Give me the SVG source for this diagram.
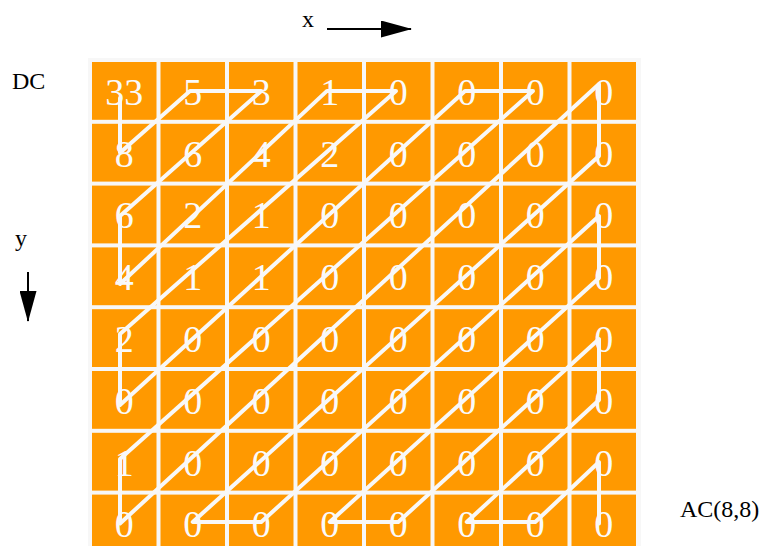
<svg xmlns="http://www.w3.org/2000/svg" width="764" height="546" viewBox="0 0 764 546">
<style>
.cell{fill:#ff9900}
.num{font-family:"Liberation Serif","Times New Roman",serif;font-size:38px;fill:#fafafa;text-anchor:middle}
.lbl{font-family:"Liberation Serif","Times New Roman",serif;font-size:24px;fill:#000}
.zz{fill:none;stroke:#f8f8f8;stroke-width:4;stroke-linejoin:round;stroke-linecap:round}
.ax{stroke:#000;stroke-width:2;fill:none}
</style>
<defs>
<marker id="ah" markerUnits="userSpaceOnUse" markerWidth="31" markerHeight="17" refX="30" refY="8.5" orient="auto">
<path d="M0,0 L31,8.5 L0,17 Z" fill="#000"/>
</marker>
</defs>
<rect x="0" y="0" width="764" height="546" fill="#fff"/>
<rect x="88" y="58" width="553" height="488" fill="#f7f7f7"/>
<g id="labels">
<text class="lbl" x="302" y="27">x</text>
<text class="lbl" x="12" y="89">DC</text>
<text class="lbl" x="15" y="246">y</text>
<text class="lbl" x="680" y="517">AC(8,8)</text>
</g>
<g id="axes">
<line class="ax" x1="327" y1="29" x2="411" y2="29" marker-end="url(#ah)"/>
<line class="ax" x1="28" y1="272" x2="28" y2="321" marker-end="url(#ah)"/>
</g>
<g id="cells">
<g id="c00" transform="translate(92,62)"><rect class="cell" width="64.5" height="57.8"/><text class="num" x="32.25" y="42.9">33</text></g>
<g id="c01" transform="translate(160.5,62)"><rect class="cell" width="64.5" height="57.8"/><text class="num" x="32.25" y="42.9">5</text></g>
<g id="c02" transform="translate(229,62)"><rect class="cell" width="64.5" height="57.8"/><text class="num" x="32.25" y="42.9">3</text></g>
<g id="c03" transform="translate(297.5,62)"><rect class="cell" width="64.5" height="57.8"/><text class="num" x="32.25" y="42.9">1</text></g>
<g id="c04" transform="translate(366,62)"><rect class="cell" width="64.5" height="57.8"/><text class="num" x="32.25" y="42.9">0</text></g>
<g id="c05" transform="translate(434.5,62)"><rect class="cell" width="64.5" height="57.8"/><text class="num" x="32.25" y="42.9">0</text></g>
<g id="c06" transform="translate(503,62)"><rect class="cell" width="64.5" height="57.8"/><text class="num" x="32.25" y="42.9">0</text></g>
<g id="c07" transform="translate(571.5,62)"><rect class="cell" width="64.5" height="57.8"/><text class="num" x="32.25" y="42.9">0</text></g>

<g id="c10" transform="translate(92,123.8)"><rect class="cell" width="64.5" height="57.8"/><text class="num" x="32.25" y="42.9">8</text></g>
<g id="c11" transform="translate(160.5,123.8)"><rect class="cell" width="64.5" height="57.8"/><text class="num" x="32.25" y="42.9">6</text></g>
<g id="c12" transform="translate(229,123.8)"><rect class="cell" width="64.5" height="57.8"/><text class="num" x="32.25" y="42.9">4</text></g>
<g id="c13" transform="translate(297.5,123.8)"><rect class="cell" width="64.5" height="57.8"/><text class="num" x="32.25" y="42.9">2</text></g>
<g id="c14" transform="translate(366,123.8)"><rect class="cell" width="64.5" height="57.8"/><text class="num" x="32.25" y="42.9">0</text></g>
<g id="c15" transform="translate(434.5,123.8)"><rect class="cell" width="64.5" height="57.8"/><text class="num" x="32.25" y="42.9">0</text></g>
<g id="c16" transform="translate(503,123.8)"><rect class="cell" width="64.5" height="57.8"/><text class="num" x="32.25" y="42.9">0</text></g>
<g id="c17" transform="translate(571.5,123.8)"><rect class="cell" width="64.5" height="57.8"/><text class="num" x="32.25" y="42.9">0</text></g>

<g id="c20" transform="translate(92,185.6)"><rect class="cell" width="64.5" height="57.8"/><text class="num" x="32.25" y="42.9">6</text></g>
<g id="c21" transform="translate(160.5,185.6)"><rect class="cell" width="64.5" height="57.8"/><text class="num" x="32.25" y="42.9">2</text></g>
<g id="c22" transform="translate(229,185.6)"><rect class="cell" width="64.5" height="57.8"/><text class="num" x="32.25" y="42.9">1</text></g>
<g id="c23" transform="translate(297.5,185.6)"><rect class="cell" width="64.5" height="57.8"/><text class="num" x="32.25" y="42.9">0</text></g>
<g id="c24" transform="translate(366,185.6)"><rect class="cell" width="64.5" height="57.8"/><text class="num" x="32.25" y="42.9">0</text></g>
<g id="c25" transform="translate(434.5,185.6)"><rect class="cell" width="64.5" height="57.8"/><text class="num" x="32.25" y="42.9">0</text></g>
<g id="c26" transform="translate(503,185.6)"><rect class="cell" width="64.5" height="57.8"/><text class="num" x="32.25" y="42.9">0</text></g>
<g id="c27" transform="translate(571.5,185.6)"><rect class="cell" width="64.5" height="57.8"/><text class="num" x="32.25" y="42.9">0</text></g>

<g id="c30" transform="translate(92,247.4)"><rect class="cell" width="64.5" height="57.8"/><text class="num" x="32.25" y="42.9">4</text></g>
<g id="c31" transform="translate(160.5,247.4)"><rect class="cell" width="64.5" height="57.8"/><text class="num" x="32.25" y="42.9">1</text></g>
<g id="c32" transform="translate(229,247.4)"><rect class="cell" width="64.5" height="57.8"/><text class="num" x="32.25" y="42.9">1</text></g>
<g id="c33" transform="translate(297.5,247.4)"><rect class="cell" width="64.5" height="57.8"/><text class="num" x="32.25" y="42.9">0</text></g>
<g id="c34" transform="translate(366,247.4)"><rect class="cell" width="64.5" height="57.8"/><text class="num" x="32.25" y="42.9">0</text></g>
<g id="c35" transform="translate(434.5,247.4)"><rect class="cell" width="64.5" height="57.8"/><text class="num" x="32.25" y="42.9">0</text></g>
<g id="c36" transform="translate(503,247.4)"><rect class="cell" width="64.5" height="57.8"/><text class="num" x="32.25" y="42.9">0</text></g>
<g id="c37" transform="translate(571.5,247.4)"><rect class="cell" width="64.5" height="57.8"/><text class="num" x="32.25" y="42.9">0</text></g>

<g id="c40" transform="translate(92,309.2)"><rect class="cell" width="64.5" height="57.8"/><text class="num" x="32.25" y="42.9">2</text></g>
<g id="c41" transform="translate(160.5,309.2)"><rect class="cell" width="64.5" height="57.8"/><text class="num" x="32.25" y="42.9">0</text></g>
<g id="c42" transform="translate(229,309.2)"><rect class="cell" width="64.5" height="57.8"/><text class="num" x="32.25" y="42.9">0</text></g>
<g id="c43" transform="translate(297.5,309.2)"><rect class="cell" width="64.5" height="57.8"/><text class="num" x="32.25" y="42.9">0</text></g>
<g id="c44" transform="translate(366,309.2)"><rect class="cell" width="64.5" height="57.8"/><text class="num" x="32.25" y="42.9">0</text></g>
<g id="c45" transform="translate(434.5,309.2)"><rect class="cell" width="64.5" height="57.8"/><text class="num" x="32.25" y="42.9">0</text></g>
<g id="c46" transform="translate(503,309.2)"><rect class="cell" width="64.5" height="57.8"/><text class="num" x="32.25" y="42.9">0</text></g>
<g id="c47" transform="translate(571.5,309.2)"><rect class="cell" width="64.5" height="57.8"/><text class="num" x="32.25" y="42.9">0</text></g>

<g id="c50" transform="translate(92,371)"><rect class="cell" width="64.5" height="57.8"/><text class="num" x="32.25" y="42.9">0</text></g>
<g id="c51" transform="translate(160.5,371)"><rect class="cell" width="64.5" height="57.8"/><text class="num" x="32.25" y="42.9">0</text></g>
<g id="c52" transform="translate(229,371)"><rect class="cell" width="64.5" height="57.8"/><text class="num" x="32.25" y="42.9">0</text></g>
<g id="c53" transform="translate(297.5,371)"><rect class="cell" width="64.5" height="57.8"/><text class="num" x="32.25" y="42.9">0</text></g>
<g id="c54" transform="translate(366,371)"><rect class="cell" width="64.5" height="57.8"/><text class="num" x="32.25" y="42.9">0</text></g>
<g id="c55" transform="translate(434.5,371)"><rect class="cell" width="64.5" height="57.8"/><text class="num" x="32.25" y="42.9">0</text></g>
<g id="c56" transform="translate(503,371)"><rect class="cell" width="64.5" height="57.8"/><text class="num" x="32.25" y="42.9">0</text></g>
<g id="c57" transform="translate(571.5,371)"><rect class="cell" width="64.5" height="57.8"/><text class="num" x="32.25" y="42.9">0</text></g>

<g id="c60" transform="translate(92,432.8)"><rect class="cell" width="64.5" height="57.8"/><text class="num" x="32.25" y="42.9">1</text></g>
<g id="c61" transform="translate(160.5,432.8)"><rect class="cell" width="64.5" height="57.8"/><text class="num" x="32.25" y="42.9">0</text></g>
<g id="c62" transform="translate(229,432.8)"><rect class="cell" width="64.5" height="57.8"/><text class="num" x="32.25" y="42.9">0</text></g>
<g id="c63" transform="translate(297.5,432.8)"><rect class="cell" width="64.5" height="57.8"/><text class="num" x="32.25" y="42.9">0</text></g>
<g id="c64" transform="translate(366,432.8)"><rect class="cell" width="64.5" height="57.8"/><text class="num" x="32.25" y="42.9">0</text></g>
<g id="c65" transform="translate(434.5,432.8)"><rect class="cell" width="64.5" height="57.8"/><text class="num" x="32.25" y="42.9">0</text></g>
<g id="c66" transform="translate(503,432.8)"><rect class="cell" width="64.5" height="57.8"/><text class="num" x="32.25" y="42.9">0</text></g>
<g id="c67" transform="translate(571.5,432.8)"><rect class="cell" width="64.5" height="57.8"/><text class="num" x="32.25" y="42.9">0</text></g>

<g id="c70" transform="translate(92,494.6)"><rect class="cell" width="64.5" height="57.8"/><text class="num" x="32.25" y="42.9">0</text></g>
<g id="c71" transform="translate(160.5,494.6)"><rect class="cell" width="64.5" height="57.8"/><text class="num" x="32.25" y="42.9">0</text></g>
<g id="c72" transform="translate(229,494.6)"><rect class="cell" width="64.5" height="57.8"/><text class="num" x="32.25" y="42.9">0</text></g>
<g id="c73" transform="translate(297.5,494.6)"><rect class="cell" width="64.5" height="57.8"/><text class="num" x="32.25" y="42.9">0</text></g>
<g id="c74" transform="translate(366,494.6)"><rect class="cell" width="64.5" height="57.8"/><text class="num" x="32.25" y="42.9">0</text></g>
<g id="c75" transform="translate(434.5,494.6)"><rect class="cell" width="64.5" height="57.8"/><text class="num" x="32.25" y="42.9">0</text></g>
<g id="c76" transform="translate(503,494.6)"><rect class="cell" width="64.5" height="57.8"/><text class="num" x="32.25" y="42.9">0</text></g>
<g id="c77" transform="translate(571.5,494.6)"><rect class="cell" width="64.5" height="57.8"/><text class="num" x="32.25" y="42.9">0</text></g>
</g>
<g id="connectors">
<polyline class="zz" points="120,98 120,152.7 190,90.9 261.25,90.9 120,216 120,284 327,90.9 396,90.9 120,334 120,405 465,90.9 533,90.9 120,459 120,523.5 599,84 599,156 192.75,522 261.25,522 599,216 599,278 329.75,522 398.25,522 599,339 599,400 466.75,522 535.25,522 599,462 599,523.5"/>
</g>
</svg>
